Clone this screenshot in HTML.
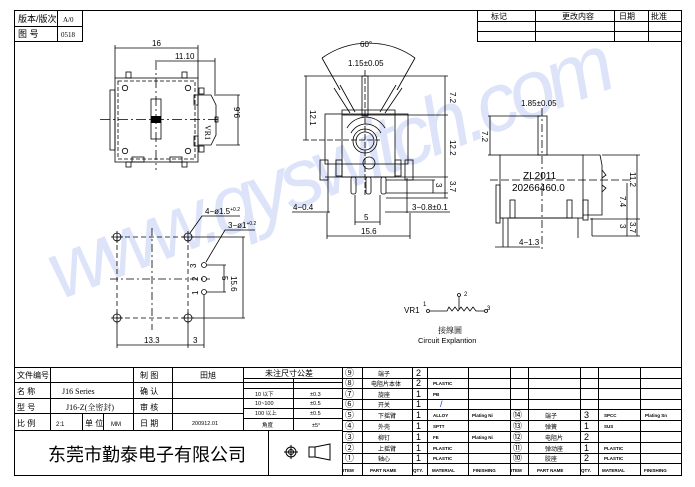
<!DOCTYPE html>
<html><head><meta charset="utf-8"><style>
html,body{margin:0;padding:0;background:#fff;width:695px;height:487px;overflow:hidden}
svg{display:block}
text{font-family:"Liberation Sans","Noto Sans CJK SC",sans-serif;fill:#000}
.s{font-family:"Liberation Serif","Noto Serif CJK SC",serif}
</style></head><body>
<svg width="695" height="487" viewBox="0 0 695 487" xmlns="http://www.w3.org/2000/svg">
<!-- watermark -->
<text x="60" y="300" transform="rotate(-21 60 300)" font-size="82" font-style="italic" style="fill:#dde4f9" textLength="600">www.qyswitch.com</text>

<g stroke="#000" fill="none" stroke-width="1">
<rect x="14.5" y="10.5" width="667" height="465"/>
<rect x="14.5" y="10.5" width="68" height="31"/>
<line x1="14" y1="26.5" x2="83" y2="26.5"/>
<line x1="57.5" y1="10" x2="57.5" y2="41"/>
<rect x="477.5" y="10.5" width="204" height="31"/>
<line x1="477" y1="21.5" x2="681" y2="21.5"/>
<line x1="477" y1="31.5" x2="681" y2="31.5"/>
<line x1="535.5" y1="10" x2="535.5" y2="42"/>
<line x1="614.5" y1="10" x2="614.5" y2="42"/>
<line x1="648.5" y1="10" x2="648.5" y2="42"/>
</g>
<text x="18" y="22" font-size="9">版本/版次</text>
<text x="63" y="22" font-size="7" class="s">A/0</text>
<text x="18" y="37" font-size="9">图 号</text>
<text x="61" y="37" font-size="7" class="s">0518</text>
<text x="491" y="19" font-size="8">标记</text>
<text x="562" y="19" font-size="8">更改内容</text>
<text x="619" y="19" font-size="8">日期</text>
<text x="651" y="19" font-size="8">批准</text>

<!-- Drawing 1: top view -->
<g stroke="#000" fill="none" stroke-width="0.8">
<line x1="115" y1="45" x2="115" y2="78"/><line x1="198" y1="45" x2="198" y2="78"/>
<line x1="115" y1="48" x2="198" y2="48"/>
<line x1="157" y1="61" x2="215" y2="61"/><line x1="215" y1="58" x2="215" y2="96"/>
<rect x="115" y="78" width="83" height="84"/>
<rect x="118" y="81" width="77" height="78" stroke-dasharray="4,2"/>
<rect x="126" y="72" width="5" height="6"/><rect x="182" y="72" width="5" height="6"/>
<rect x="126" y="162" width="5" height="5"/><rect x="182" y="162" width="5" height="5"/>
<rect x="132" y="157" width="12" height="5"/><rect x="170" y="157" width="12" height="5"/>
<rect x="110" y="90" width="5" height="60"/>
<rect x="199" y="88" width="5" height="6"/><rect x="199" y="146" width="5" height="6"/>
<rect x="194" y="95" width="4" height="10"/><rect x="194" y="136" width="4" height="10"/>
<path d="M198 95 L211 95 L216 105 L216 135 L211 145 L198 145"/>
<rect x="215" y="117" width="3" height="5"/>
<line x1="216" y1="95" x2="240" y2="95"/><line x1="216" y1="145" x2="240" y2="145"/>
<line x1="238" y1="95" x2="238" y2="145"/>
<circle cx="125" cy="88" r="2.7"/><circle cx="188" cy="88" r="2.7"/>
<circle cx="125" cy="151" r="2.7"/><circle cx="188" cy="151" r="2.7"/>
<rect x="151" y="99" width="10" height="40"/>
<line x1="100" y1="119.5" x2="220" y2="119.5" stroke-dasharray="10,3,2,3"/>
<line x1="156" y1="60" x2="156" y2="170" stroke-dasharray="10,3,2,3"/>
</g>
<rect x="151" y="116" width="10" height="7" fill="#000"/>
<text x="152" y="46" font-size="8">16</text>
<text x="175" y="59" font-size="8">11.10</text>
<text x="238" y="124" font-size="8" transform="rotate(-90 236 120)">9.6</text>
<text x="205" y="125" font-size="8" class="s" transform="rotate(90 205 125)">VR1</text>

<!-- Drawing 2: front view -->
<g stroke="#000" fill="none" stroke-width="0.8">
<path d="M322 58 A80 80 0 0 1 415 58"/>
<line x1="322" y1="58" x2="340" y2="90"/><line x1="415" y1="58" x2="397" y2="90"/>
<path d="M334 88 L350 113 M340 85 L355 112"/>
<path d="M396 85 L380 112 M402 88 L385 113"/>
<rect x="362" y="76" width="6" height="40"/>
<line x1="365" y1="70" x2="365" y2="195" stroke-dasharray="6,2"/>
<line x1="304" y1="76" x2="448" y2="76"/>
<line x1="306" y1="76" x2="306" y2="140"/>
<line x1="303" y1="140" x2="380" y2="140" stroke-dasharray="6,2"/>
<rect x="325" y="114" width="83" height="50"/>
<rect x="342" y="115" width="53" height="62"/>
<path d="M342 114 L342 110 L395 110 L395 114"/>
<path d="M347 128 A22 22 0 0 1 385 128"/>
<path d="M351 133 A17 17 0 0 1 381 133"/>
<circle cx="365" cy="141" r="12"/><circle cx="365" cy="141" r="9"/>
<circle cx="369" cy="163" r="6"/>
<rect x="320" y="160" width="8" height="20"/><rect x="405" y="160" width="8" height="20"/>
<rect x="336" y="160" width="6" height="16"/><rect x="395" y="160" width="6" height="16"/>
<line x1="325" y1="177" x2="410" y2="177"/>
<rect x="351" y="177" width="5" height="17" rx="2"/><rect x="366" y="177" width="5" height="17" rx="2"/><rect x="381" y="177" width="5" height="17" rx="2"/>
<line x1="328" y1="178" x2="328" y2="213"/><line x1="407" y1="178" x2="407" y2="213"/>
<line x1="395" y1="115" x2="448" y2="115"/>
<line x1="445" y1="76" x2="445" y2="198"/>
<line x1="410" y1="177" x2="448" y2="177"/>
<line x1="386" y1="180" x2="435" y2="180"/><line x1="386" y1="193" x2="448" y2="193"/>
<line x1="433" y1="180" x2="433" y2="193"/>
<line x1="386" y1="198" x2="448" y2="198"/>
<line x1="292" y1="212" x2="330" y2="212"/>
<line x1="385" y1="212" x2="450" y2="212"/>
<line x1="355" y1="195" x2="355" y2="225"/><line x1="380" y1="195" x2="380" y2="225"/>
<line x1="355" y1="222" x2="380" y2="222"/>
<line x1="327" y1="213" x2="327" y2="239"/><line x1="410" y1="213" x2="410" y2="239"/>
<line x1="327" y1="236" x2="410" y2="236"/>
</g>
<text x="360" y="47" font-size="8">60°</text>
<text x="348" y="66" font-size="8">1.15±0.05</text>
<text x="310" y="110" font-size="8" transform="rotate(90 310 110)">12.1</text>
<text x="450" y="92" font-size="8" transform="rotate(90 450 92)">7.2</text>
<text x="450" y="140" font-size="8" transform="rotate(90 450 140)">12.2</text>
<text x="450" y="181" font-size="8" transform="rotate(90 450 181)">3.7</text>
<text x="436" y="183" font-size="8" transform="rotate(90 436 183)">3</text>
<text x="293" y="210" font-size="8">4−0.4</text>
<text x="412" y="210" font-size="8">3−0.8±0.1</text>
<text x="364" y="220" font-size="8">5</text>
<text x="361" y="234" font-size="8">15.6</text>

<!-- Drawing 3: side view -->
<g stroke="#000" fill="none" stroke-width="0.8">
<line x1="488" y1="116" x2="540" y2="116"/>
<line x1="490" y1="116" x2="490" y2="155"/>
<line x1="488" y1="155" x2="500" y2="155"/>
<rect x="538" y="116" width="9" height="39"/>
<rect x="500" y="155" width="83" height="63"/>
<path d="M583 155 L600 155 L602 165 L602 215 L583 215"/>
<path d="M602 170 L606 175 L602 178 M602 185 L606 188 L602 192"/>
<rect x="496" y="185" width="4" height="38"/>
<rect x="583" y="200" width="5" height="20"/>
<rect x="510" y="200" width="5" height="18"/><rect x="567" y="200" width="5" height="18"/>
<line x1="510" y1="218" x2="570" y2="218"/>
<line x1="503" y1="218" x2="503" y2="247"/><line x1="508" y1="218" x2="508" y2="247"/>
<line x1="578" y1="218" x2="578" y2="238"/>
<line x1="592" y1="218" x2="592" y2="236"/>
<line x1="592" y1="236" x2="640" y2="236"/>
<line x1="602" y1="155" x2="640" y2="155"/>
<line x1="637" y1="155" x2="637" y2="236"/>
<line x1="627" y1="183" x2="627" y2="236"/>
<line x1="590" y1="219" x2="640" y2="219"/>
<line x1="490" y1="180" x2="630" y2="180" stroke-dasharray="8,3"/>
<line x1="542" y1="108" x2="542" y2="250" stroke-dasharray="8,3,2,3"/>
<line x1="495" y1="247" x2="540" y2="247"/>
</g>
<text x="521" y="106" font-size="8">1.85±0.05</text>
<text x="482" y="131" font-size="8" transform="rotate(90 482 131)">7.2</text>
<text x="523" y="179" font-size="10">ZL2011</text>
<text x="512" y="191" font-size="10">20266460.0</text>
<text x="630" y="172" font-size="8" transform="rotate(90 630 172)">11.2</text>
<text x="620" y="196" font-size="8" transform="rotate(90 620 196)">7.4</text>
<text x="620" y="224" font-size="8" transform="rotate(90 620 224)">3</text>
<text x="630" y="222" font-size="8" transform="rotate(90 630 222)">3.7</text>
<text x="519" y="245" font-size="8">4−1.3</text>

<!-- Drawing 4: holes -->
<g stroke="#000" fill="none" stroke-width="0.8">
<line x1="117" y1="237" x2="188" y2="237" stroke-dasharray="5,3"/>
<line x1="117" y1="318" x2="188" y2="318" stroke-dasharray="5,3"/>
<line x1="117" y1="237" x2="117" y2="318" stroke-dasharray="5,3"/>
<line x1="188" y1="237" x2="188" y2="318" stroke-dasharray="5,3"/>
<line x1="152" y1="228" x2="152" y2="330" stroke-dasharray="8,3,2,3"/>
<line x1="110" y1="279" x2="210" y2="279" stroke-dasharray="8,3,2,3"/>
<circle cx="117" cy="237" r="4"/><circle cx="188" cy="237" r="4"/>
<circle cx="117" cy="318" r="4"/><circle cx="188" cy="318" r="4"/>
<path d="M111 237 H123 M117 231 V243 M182 237 H194 M188 231 V243 M111 318 H123 M117 312 V324 M182 318 H194 M188 312 V324"/>
<circle cx="204" cy="265" r="2.5"/><circle cx="204" cy="279" r="2.5"/><circle cx="204" cy="292" r="2.5"/>
<line x1="192" y1="237" x2="245" y2="237"/><line x1="192" y1="318" x2="245" y2="318"/>
<line x1="243" y1="237" x2="243" y2="318"/>
<line x1="207" y1="265" x2="226" y2="265"/><line x1="207" y1="292" x2="226" y2="292"/>
<line x1="224" y1="265" x2="224" y2="292"/>
<line x1="117" y1="322" x2="117" y2="348"/><line x1="188" y1="322" x2="188" y2="348"/><line x1="204" y1="295" x2="204" y2="348"/>
<line x1="117" y1="345" x2="204" y2="345"/>
<path d="M190 233 L202 216 L240 216"/>
<path d="M206 262 L225 230 L255 230"/>
</g>
<text x="205" y="214" font-size="8">4−ø1.5<tspan font-size="5" dy="-3">+0.2</tspan></text>
<text x="228" y="228" font-size="8">3−ø1<tspan font-size="5" dy="-3">+0.2</tspan></text>
<text x="196" y="268" font-size="8" transform="rotate(-90 196 268)">3</text>
<text x="196" y="283" font-size="8" transform="rotate(-90 196 281)">2</text>
<text x="196" y="297" font-size="8" transform="rotate(-90 196 295)">1</text>
<text x="228" y="282" font-size="8" transform="rotate(90 228 276)">5</text>
<text x="238" y="283" font-size="8" transform="rotate(90 238 276)">15.6</text>
<text x="144" y="343" font-size="8">13.3</text>
<text x="193" y="343" font-size="8">3</text>

<!-- circuit -->
<g stroke="#000" fill="none" stroke-width="0.8">
<circle cx="428" cy="311" r="1.5"/><circle cx="486" cy="311" r="1.5"/><circle cx="459" cy="295" r="1.5"/>
<path d="M430 311 L447 311 L449 307 L452 311 L455 307 L458 311 L461 307 L464 311 L467 307 L470 311 L473 307 L476 311 L484 311"/>
<line x1="459" y1="297" x2="459" y2="310"/>
</g>
<text x="404" y="313" font-size="8">VR1</text>
<text x="423" y="306" font-size="6">1</text>
<text x="464" y="296" font-size="6">2</text>
<text x="487" y="310" font-size="6">3</text>
<text x="438" y="333" font-size="8" class="s">接線圖</text>
<text x="418" y="343" font-size="7.5" font-family="Liberation Mono">Circuit Explantion</text>

<!-- title block -->
<g stroke="#000" fill="none" stroke-width="1">
<line x1="14" y1="367.5" x2="681" y2="367.5"/>
<line x1="14" y1="382.5" x2="342" y2="382.5"/>
<line x1="14" y1="398.5" x2="342" y2="398.5"/>
<line x1="14" y1="413.5" x2="243" y2="413.5"/>
<line x1="14" y1="430.5" x2="342" y2="430.5"/>
<line x1="50.5" y1="367" x2="50.5" y2="430"/>
<line x1="82.5" y1="413" x2="82.5" y2="430"/>
<line x1="103.5" y1="413" x2="103.5" y2="430"/>
<line x1="133.5" y1="367" x2="133.5" y2="430"/>
<line x1="172.5" y1="367" x2="172.5" y2="430"/>
<line x1="243.5" y1="367" x2="243.5" y2="430"/>
<line x1="293.5" y1="378" x2="293.5" y2="430"/>
<line x1="243" y1="378.5" x2="342" y2="378.5"/>
<line x1="243" y1="388.5" x2="342" y2="388.5"/>
<line x1="243" y1="408.5" x2="342" y2="408.5"/>
<line x1="243" y1="418.5" x2="342" y2="418.5"/>
<line x1="268.5" y1="430" x2="268.5" y2="475"/>
<line x1="342.5" y1="367" x2="342.5" y2="475"/>
<line x1="362.5" y1="367" x2="362.5" y2="475"/>
<line x1="412.5" y1="367" x2="412.5" y2="475"/>
<line x1="427.5" y1="367" x2="427.5" y2="475"/>
<line x1="468.5" y1="367" x2="468.5" y2="475"/>
<line x1="510.5" y1="367" x2="510.5" y2="475"/>
<line x1="528.5" y1="367" x2="528.5" y2="475"/>
<line x1="580.5" y1="367" x2="580.5" y2="475"/>
<line x1="598.5" y1="367" x2="598.5" y2="475"/>
<line x1="640.5" y1="367" x2="640.5" y2="475"/>
<line x1="342" y1="378.5" x2="681" y2="378.5"/>
<line x1="342" y1="388.5" x2="681" y2="388.5"/>
<line x1="342" y1="399.5" x2="681" y2="399.5"/>
<line x1="342" y1="409.5" x2="681" y2="409.5"/>
<line x1="342" y1="420.5" x2="681" y2="420.5"/>
<line x1="342" y1="431.5" x2="681" y2="431.5"/>
<line x1="342" y1="442.5" x2="681" y2="442.5"/>
<line x1="342" y1="453.5" x2="681" y2="453.5"/>
<line x1="342" y1="463.5" x2="681" y2="463.5"/>
<circle cx="291" cy="452" r="5"/><circle cx="291" cy="452" r="2.5"/>
<line x1="284" y1="452" x2="298" y2="452"/><line x1="291" y1="445" x2="291" y2="459"/>
<path d="M309 447 L315 447 L330 444 L330 460 L315 457 L309 457 Z M315 447 L315 457"/>
</g>
<g font-size="8">
<text x="17" y="378">文件编号</text><text x="140" y="378">制 图</text><text x="200" y="378">田旭</text>
<text x="17" y="394">名 称</text><text x="62" y="394" class="s">J16  Series</text><text x="140" y="394">确 认</text>
<text x="17" y="410">型 号</text><text x="66" y="410" class="s">J16-Z(全密封)</text><text x="140" y="410">审 核</text>
<text x="17" y="426">比 例</text><text x="56" y="426" font-size="6">2:1</text><text x="85" y="426">单 位</text><text x="111" y="426" font-size="6">MM</text><text x="140" y="426">日 期</text>
</g>
<text x="192" y="425" font-size="5.5">200912.01</text>
<text x="265" y="376" font-size="8">未注尺寸公差</text>
<g font-size="5.5">
<text x="255" y="396">10 以下</text><text x="310" y="396">±0.3</text>
<text x="255" y="405">10~100</text><text x="310" y="405">±0.5</text>
<text x="255" y="415">100  以上</text><text x="310" y="415">±0.5</text>
<text x="262" y="427">角度</text><text x="312" y="427">±5°</text>
</g>
<text x="48" y="461" font-size="18" textLength="198">东莞市勤泰电子有限公司</text>

<g font-size="9">
<text x="345" y="376">⑨</text><text x="345" y="386">⑧</text><text x="345" y="397">⑦</text><text x="345" y="407">⑥</text>
<text x="345" y="418">⑤</text><text x="345" y="429">④</text><text x="345" y="440">③</text><text x="345" y="451">②</text><text x="345" y="461">①</text>
<text x="513" y="418">⑭</text><text x="513" y="429">⑬</text><text x="513" y="440">⑫</text><text x="513" y="451">⑪</text><text x="513" y="461">⑩</text>
</g>
<g font-size="6" class="s">
<text x="378" y="376">端子</text><text x="371" y="386">电阻片本体</text><text x="378" y="397">旋座</text><text x="378" y="407">开关</text>
<text x="378" y="418">下摇臂</text><text x="378" y="429">外壳</text><text x="378" y="440">柳钉</text><text x="378" y="451">上摇臂</text><text x="378" y="461">轴心</text>
<text x="545" y="418">端子</text><text x="545" y="429">弹簧</text><text x="545" y="440">电阻片</text><text x="545" y="451">弹动座</text><text x="545" y="461">胶座</text>
</g>
<g font-size="9">
<text x="416" y="376">2</text><text x="416" y="386">2</text><text x="416" y="397">1</text><text x="416" y="407">1</text>
<text x="416" y="418">1</text><text x="416" y="429">1</text><text x="416" y="440">1</text><text x="416" y="451">1</text><text x="416" y="461">1</text>
<text x="584" y="418">3</text><text x="584" y="429">1</text><text x="584" y="440">2</text><text x="584" y="451">1</text><text x="584" y="461">2</text>
</g>
<g font-size="4.5" font-weight="bold">
<text x="433" y="385">PLASTIC</text><text x="433" y="396">PB</text>
<text x="433" y="417">ALLOY</text><text x="472" y="417">Plating Ni</text>
<text x="433" y="428">SPTT</text><text x="433" y="439">FE</text><text x="472" y="439">Plating Ni</text>
<text x="433" y="450">PLASTIC</text><text x="433" y="460">PLASTIC</text>
<text x="604" y="417">SPCC</text><text x="645" y="417">Plating Sn</text>
<text x="604" y="428">SUS</text><text x="604" y="450">PLASTIC</text><text x="604" y="460">PLASTIC</text>
<text x="343" y="472">ITEM</text><text x="370" y="472">PART NAME</text><text x="413" y="472">QTY.</text>
<text x="432" y="472">MATERIAL</text><text x="473" y="472">FINISHING</text>
<text x="511" y="472">ITEM</text><text x="537" y="472">PART NAME</text><text x="581" y="472">QTY.</text>
<text x="602" y="472">MATERIAL</text><text x="644" y="472">FINISHING</text>
</g>
<text x="440" y="407" font-size="9" style="fill:#2244cc">/</text>
</svg>
</body></html>
